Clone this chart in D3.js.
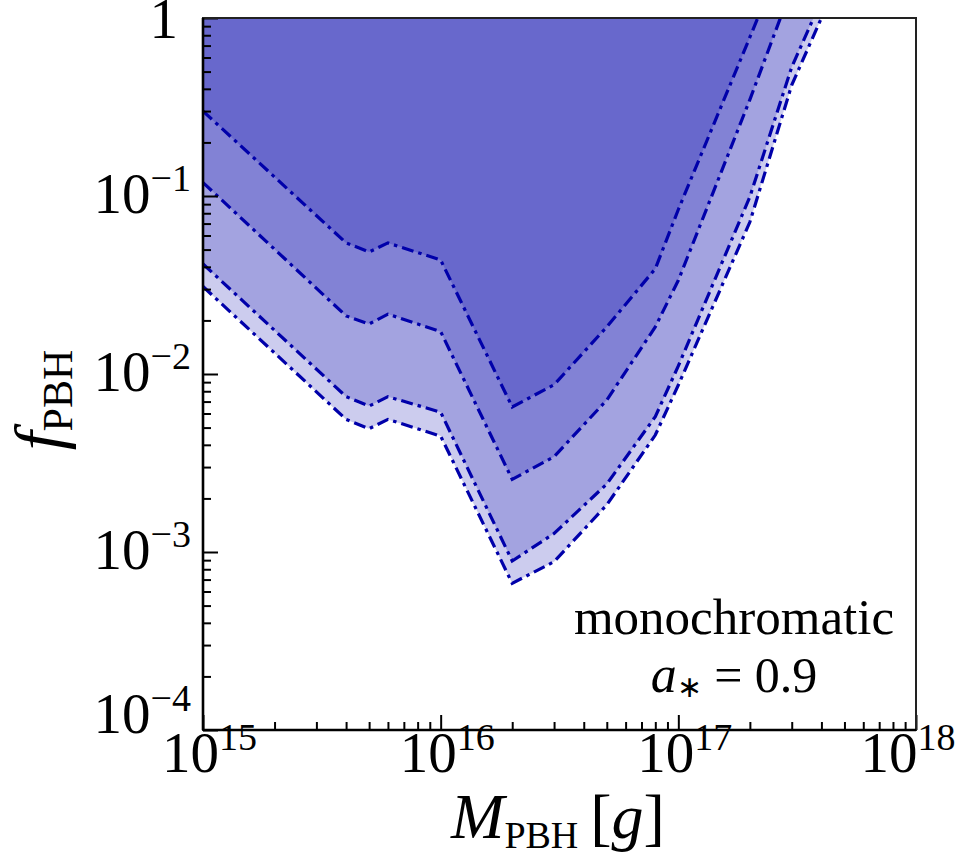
<!DOCTYPE html>
<html>
<head>
<meta charset="utf-8">
<script src="https://cdn.jsdelivr.net/npm/d3@7"></script>
<style>
  html, body { margin: 0; padding: 0; background: #fff; }
  svg { display: block; }
</style>
</head>
<body>
<svg id="chart" width="956" height="861" font-family="'Liberation Serif', 'Times New Roman', Times, 'DejaVu Serif', serif"></svg>
<script>
// ---- data ----
const massGrams = [1e15, 4e15, 5e15, 6e15, 1e16, 2e16, 3e16, 5e16, 8e16, 1e17, 2e17, 3e17, 4e17];
const boundA = [0.30, 0.0545, 0.0485, 0.0545, 0.0437, 0.00653, 0.0087, 0.0184, 0.039, 0.084, 0.78, 2.9, 8.0];
const boundB = [0.119, 0.0212, 0.0191, 0.0217, 0.0173, 0.00256, 0.00343, 0.00714, 0.0184, 0.0336, 0.348, 1.48, 4.0];
const boundC = [0.0415, 0.00746, 0.0066, 0.00746, 0.0061, 0.00089, 0.00127, 0.00241, 0.00576, 0.0111, 0.099, 0.53, 1.26];
const boundD = [0.031, 0.00556, 0.00493, 0.00556, 0.00448, 0.000667, 0.000882, 0.00184, 0.00454, 0.00867, 0.0714, 0.42, 1.0];
const xMajorExp = [15, 16, 17, 18];
const yMajorExp = [0, -1, -2, -3, -4];

const FONT = "'Liberation Serif', 'Times New Roman', Times, serif";

// ---- layout ----
const svg = d3.select("#chart");
const L = 203, R = 916, T = 18, B = 730;
const x = d3.scaleLog().domain([1e15, 1e18]).range([L, R]);
const y = d3.scaleLog().domain([1e-4, 1]).range([B, T]);

svg.append("defs").append("clipPath").attr("id", "plotclip")
  .append("rect").attr("x", L).attr("y", T).attr("width", R - L).attr("height", B - T);

const plot = svg.append("g").attr("clip-path", "url(#plotclip)");

const series = [boundD, boundC, boundB, boundA];
const area = d3.area()
  .x(d => x(d.m))
  .y0(T - 60)
  .y1(d => y(d.f));
const line = d3.line().x(d => x(d.m)).y(d => y(d.f));

series.forEach(s => {
  const pts = massGrams.map((m, i) => ({ m, f: s[i] }));
  plot.append("path").attr("d", area(pts))
    .attr("fill", "rgb(0,0,170)").attr("fill-opacity", 0.2).attr("stroke", "none");
});
series.forEach(s => {
  const pts = massGrams.map((m, i) => ({ m, f: s[i] }));
  plot.append("path").attr("d", line(pts))
    .attr("fill", "none").attr("stroke", "#0000aa").attr("stroke-width", 3.2)
    .attr("stroke-dasharray", "12,5,3.5,5");
});

// ---- ticks ----
const xMajor = xMajorExp.map(e => Math.pow(10, e));
const xMinor = [];
for (let e = 15; e < 18; e++) for (let k = 2; k <= 9; k++) xMinor.push(k * Math.pow(10, e));
const yMajor = yMajorExp.map(e => Math.pow(10, e));
const yMinor = [];
for (let e = -4; e < 0; e++) for (let k = 2; k <= 9; k++) yMinor.push(k * Math.pow(10, e));

const axStyle = g => {
  g.select(".domain").remove();
  g.selectAll(".tick line").attr("stroke", "#000").attr("stroke-width", 2);
};

svg.append("g").attr("transform", `translate(0,${B})`)
  .call(d3.axisBottom(x).tickValues(xMinor).tickSize(-8).tickFormat(""))
  .call(axStyle);
const gx = svg.append("g").attr("transform", `translate(0,${B})`)
  .call(d3.axisBottom(x).tickValues(xMajor).tickSize(-15).tickPadding(0).tickFormat(""))
  .call(axStyle);
gx.selectAll(".tick").each(function (d) {
  const e = Math.round(Math.log10(d));
  const t = d3.select(this).append("text")
    .attr("font-family", FONT).attr("fill", "#000")
    .attr("y", 42).attr("text-anchor", e === 18 ? "end" : "middle")
    .attr("x", e === 18 ? 39 : 6)
    .style("font-size", "57px");
  t.append("tspan").text("10");
  t.append("tspan").attr("dy", -22).style("font-size", "38px").text(e);
});

svg.append("g").attr("transform", `translate(${L},0)`)
  .call(d3.axisLeft(y).tickValues(yMinor).tickSize(-8).tickFormat(""))
  .call(axStyle);
const gy = svg.append("g").attr("transform", `translate(${L},0)`)
  .call(d3.axisLeft(y).tickValues(yMajor).tickSize(-15).tickFormat(""))
  .call(axStyle);
gy.selectAll(".tick").each(function (d) {
  const e = Math.round(Math.log10(d));
  const t = d3.select(this).append("text")
    .attr("font-family", FONT).attr("fill", "#000")
    .attr("x", -12).attr("text-anchor", "end").style("font-size", "57px");
  if (e === 0) {
    t.attr("x", -25).attr("y", 19).text("1");
  } else {
    t.attr("y", e === -4 ? 2 : 16);
    t.append("tspan").text("10");
    t.append("tspan").attr("dy", -22).style("font-size", "38px").text("\u2212" + Math.abs(e));
  }
});

// ---- frame ----
svg.append("rect").attr("x", L).attr("y", T).attr("width", R - L).attr("height", B - T)
  .attr("fill", "none").attr("stroke", "#222").attr("stroke-width", 2);
svg.append("line").attr("x1", L).attr("x2", L).attr("y1", T).attr("y2", B)
  .attr("stroke", "#000").attr("stroke-width", 2.6);
svg.append("line").attr("x1", L).attr("x2", R).attr("y1", B).attr("y2", B)
  .attr("stroke", "#000").attr("stroke-width", 2.6);

// ---- annotation ----
svg.append("text").attr("font-family", FONT).attr("fill", "#000").attr("x", 734).attr("y", 634).attr("text-anchor", "middle")
  .style("font-size", "51px").text("monochromatic");
const ann = svg.append("text").attr("font-family", FONT).attr("fill", "#000").attr("x", 734).attr("y", 692).attr("text-anchor", "middle")
  .style("font-size", "50px");
ann.append("tspan").style("font-style", "italic").style("font-size", "52px").text("a");
ann.append("tspan").attr("dy", 5).style("font-size", "30px").text("\u2217");
ann.append("tspan").attr("dy", -5).text(" = 0.9");

// ---- axis titles ----
const xt = svg.append("text").attr("font-family", FONT).attr("fill", "#000").attr("x", 558).attr("y", 838).attr("text-anchor", "middle")
  .style("font-size", "64px");
xt.append("tspan").style("font-style", "italic").text("M");
xt.append("tspan").attr("dy", 10).style("font-size", "38px").text("PBH");
xt.append("tspan").attr("dy", -10).attr("dx", 12).text("[");
xt.append("tspan").style("font-style", "italic").text("g");
xt.append("tspan").text("]");

const yt = svg.append("text").attr("font-family", FONT).attr("fill", "#000").attr("transform", "translate(62,400) rotate(-90)")
  .attr("text-anchor", "middle").style("font-size", "68px");
yt.append("tspan").style("font-style", "italic").text("f");
yt.append("tspan").attr("dy", 10).style("font-size", "42px").text("PBH");
</script>
</body>
</html>
